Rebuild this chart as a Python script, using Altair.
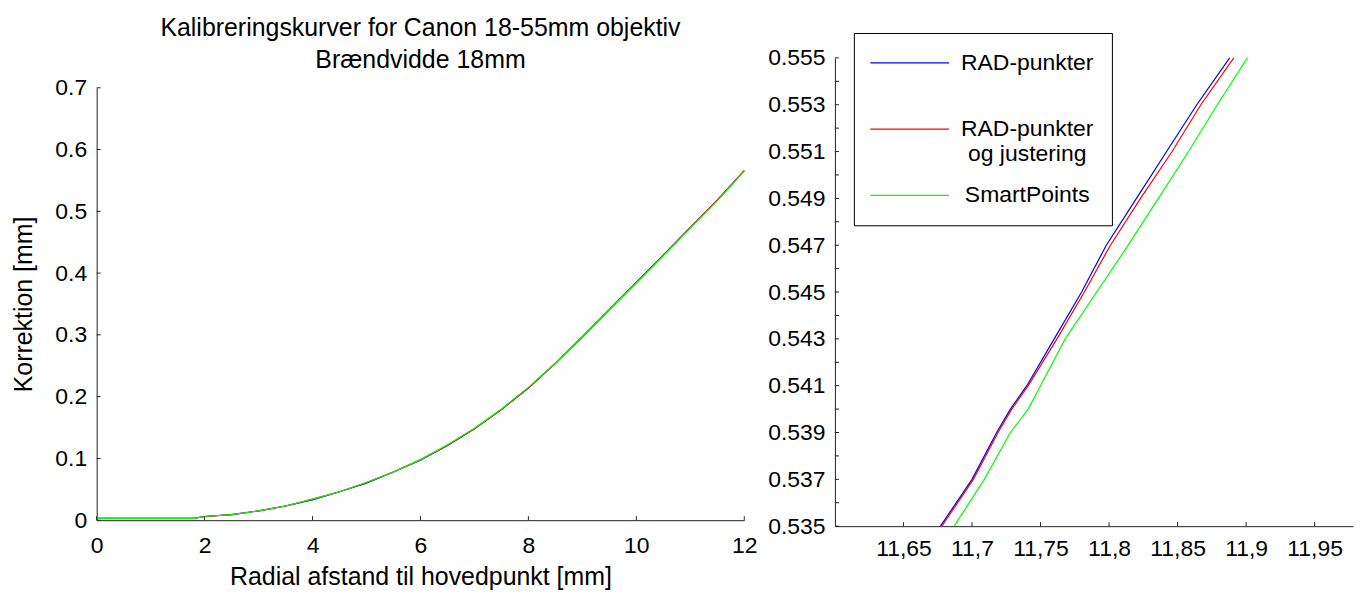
import altair as alt
import pandas as pd

FONT = "Liberation Sans"

series_names = ["RAD-punkter", "RAD-punkter og justering", "SmartPoints"]
series_colors = ["#0000ff", "#ff0000", "#00ff00"]

# ---- overview panel (radial distance [mm] -> correction [mm]) ----
r_overview = [0.0, 1.0, 1.8, 2.0, 2.5, 3.0, 3.5, 4.0, 4.5, 5.0, 5.5, 6.0,
              6.5, 7.0, 7.5, 8.0, 8.5, 9.0, 9.5, 10.0, 10.5, 11.0, 11.5, 12.0]
k_rad = [0.003, 0.003, 0.003, 0.006, 0.009, 0.015, 0.023, 0.033, 0.046, 0.060,
         0.078, 0.097, 0.121, 0.148, 0.179, 0.214, 0.254, 0.297, 0.341, 0.385,
         0.429, 0.474, 0.518, 0.566]
k_rad_just = [0.003, 0.003, 0.003, 0.006, 0.009, 0.015, 0.023, 0.034, 0.046, 0.061,
              0.078, 0.098, 0.121, 0.148, 0.179, 0.214, 0.254, 0.297, 0.341, 0.385,
              0.429, 0.474, 0.518, 0.566]
k_smart = [0.003, 0.003, 0.003, 0.006, 0.009, 0.015, 0.023, 0.034, 0.046, 0.061,
           0.078, 0.098, 0.122, 0.149, 0.180, 0.215, 0.254, 0.297, 0.341, 0.384,
           0.428, 0.473, 0.517, 0.565]

# ---- zoomed panel ----
zx_rad = [11.677, 11.700, 11.718, 11.728, 11.740, 11.760, 11.780, 11.798, 11.820,
          11.842, 11.864, 11.888]
zy_rad = [0.535, 0.537, 0.539, 0.540, 0.541, 0.543, 0.545, 0.547, 0.549,
          0.551, 0.553, 0.555]
zx_rad_just = [11.678, 11.701, 11.719, 11.729, 11.741, 11.762, 11.782, 11.801, 11.823,
               11.846, 11.867, 11.891]
zy_rad_just = [0.535, 0.537, 0.539, 0.540, 0.541, 0.543, 0.545, 0.547, 0.549,
               0.551, 0.553, 0.555]
zx_smart = [11.687, 11.709, 11.728, 11.741, 11.750, 11.768, 11.791, 11.814, 11.836,
            11.858, 11.879, 11.901]
zy_smart = [0.535, 0.537, 0.539, 0.540, 0.541, 0.543, 0.545, 0.547, 0.549,
            0.551, 0.553, 0.555]

# ---- tick values / labels ----
left_x_ticks = [0, 2, 4, 6, 8, 10, 12]
left_y_ticks = [0.0, 0.1, 0.2, 0.3, 0.4, 0.5, 0.6, 0.7]
right_x_ticks = [11.65, 11.70, 11.75, 11.80, 11.85, 11.90, 11.95]
right_y_ticks = [0.535, 0.536, 0.537, 0.538, 0.539, 0.540, 0.541, 0.542, 0.543,
                 0.544, 0.545, 0.546, 0.547, 0.548, 0.549, 0.550, 0.551, 0.552,
                 0.553, 0.554, 0.555]

title_lines = ["Kalibreringskurver for Canon 18-55mm objektiv", "Brændvidde 18mm"]

# ---- tables ----
ov_rows = []
for name, ks in zip(series_names, [k_rad, k_rad_just, k_smart]):
    for i, (r, k) in enumerate(zip(r_overview, ks)):
        ov_rows.append({"r": r, "k": k, "series": name, "i": i})
ov_df = pd.DataFrame(ov_rows)

zm_rows = []
for name, xs, ys in zip(series_names, [zx_rad, zx_rad_just, zx_smart],
                        [zy_rad, zy_rad_just, zy_smart]):
    for i, (x, y) in enumerate(zip(xs, ys)):
        zm_rows.append({"r": x, "k": y, "series": name, "i": i})
zm_df = pd.DataFrame(zm_rows)

AX = "#222222"
LW, LH = 650, 464
RW, RH = 520, 470

color_scale = alt.Scale(domain=series_names, range=series_colors)

# ---------------- left panel ----------------
lx_scale = alt.Scale(domain=[0, 12], nice=False, zero=False)
ly_scale = alt.Scale(domain=[0, 0.7], range=[LH, 30], nice=False)

left_lines = alt.Chart(ov_df).mark_line(strokeWidth=1.2).encode(
    x=alt.X("r:Q", scale=lx_scale,
            axis=alt.Axis(values=left_x_ticks, format="d", labelFlush=False,
                          title="Radial afstand til hovedpunkt [mm]",
                          labelPadding=14, titlePadding=8)),
    y=alt.Y("k:Q", scale=ly_scale,
            axis=alt.Axis(values=left_y_ticks, format=".1~f",
                          title="Korrektion [mm]",
                          labelPadding=10, titlePadding=18)),
    color=alt.Color("series:N", scale=color_scale, legend=None),
    order="i:Q",
)
left_xt = alt.Chart(pd.DataFrame({"r": left_x_ticks})).mark_rule(
    color=AX, strokeWidth=1).encode(
    x=alt.X("r:Q", scale=lx_scale), y=alt.value(LH), y2=alt.value(LH - 4))
left_yt = alt.Chart(pd.DataFrame({"k": left_y_ticks})).mark_rule(
    color=AX, strokeWidth=1).encode(
    y=alt.Y("k:Q", scale=ly_scale), x=alt.value(0), x2=alt.value(4))

left = alt.layer(left_lines, left_xt, left_yt).properties(
    width=LW, height=LH,
    title=alt.TitleParams(text=title_lines, font=FONT, fontSize=25,
                          fontWeight="normal", color="black", lineHeight=32,
                          anchor="middle", frame="group", offset=-15),
)

# ---------------- right panel ----------------
rx_scale = alt.Scale(domain=[11.6, 11.978], nice=False, zero=False)
ry_scale = alt.Scale(domain=[0.535, 0.555], nice=False, zero=False)

right_lines = alt.Chart(zm_df).mark_line(strokeWidth=1.2).encode(
    x=alt.X("r:Q", scale=rx_scale,
            axis=alt.Axis(values=right_x_ticks, title=None, labelPadding=11,
                          labelFlush=False,
                          labelExpr="replace(format(datum.value, '.2~f'), '.', ',')")),
    y=alt.Y("k:Q", scale=ry_scale,
            axis=alt.Axis(values=right_y_ticks, title=None, labelPadding=10,
                          labelExpr="round(datum.value*1000) % 2 == 1 ? format(datum.value, '.3f') : ''")),
    color=alt.Color("series:N", scale=color_scale,
                    legend=alt.Legend(
                        title=None,
                        orient="none", legendX=19, legendY=-25,
                        direction="vertical", gridAlign="all",
                        strokeColor="black", fillColor="white", padding=18,
                        symbolType="M-3.59,0H3.59", symbolSize=484,
                        symbolOffset=26, symbolStrokeWidth=1.2,
                        labelFont=FONT, labelFontSize=23, labelColor="black",
                        labelAlign="center", labelOffset=106, labelLimit=400,
                        rowPadding=17.5,
                        labelExpr="datum.label == 'RAD-punkter og justering' ? ['RAD-punkter', 'og justering'] : datum.label")),
    order="i:Q",
)
right_xt = alt.Chart(pd.DataFrame({"r": right_x_ticks})).mark_rule(
    color=AX, strokeWidth=1).encode(
    x=alt.X("r:Q", scale=rx_scale), y=alt.value(RH), y2=alt.value(RH - 4))
right_yt = alt.Chart(pd.DataFrame({"k": right_y_ticks})).mark_rule(
    color=AX, strokeWidth=1).encode(
    y=alt.Y("k:Q", scale=ry_scale), x=alt.value(0), x2=alt.value(4))

right = alt.layer(right_lines, right_xt, right_yt).properties(width=RW, height=RH)

chart = alt.hconcat(left, right, spacing=10).resolve_scale(
    color="independent"
).properties(
    padding={"left": 4, "top": 7, "right": 5, "bottom": 0},
    background="white",
).configure_view(stroke=None).configure_axis(
    labelFont=FONT, labelFontSize=23, labelColor="black",
    titleFont=FONT, titleFontSize=25, titleFontWeight="normal", titleColor="black",
    domainColor=AX, domainWidth=1, ticks=False, tickSize=0, grid=False,
)

chart.save("out.html", embed_options={"renderer": "svg", "actions": False})
